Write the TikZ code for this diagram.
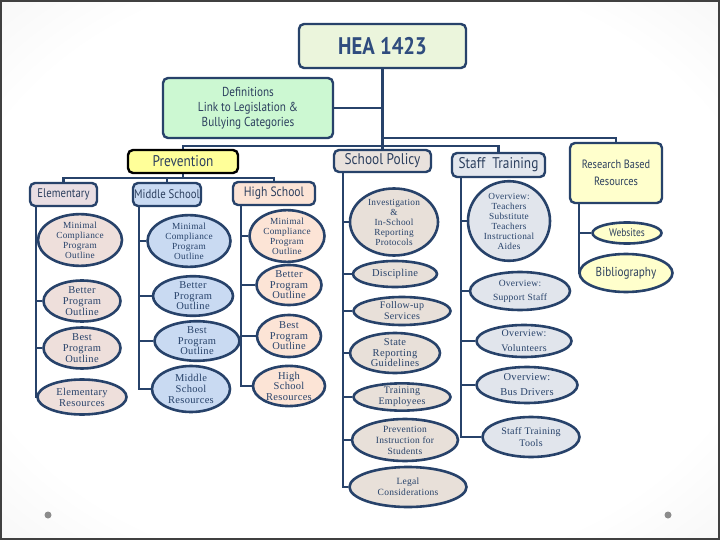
\documentclass[tikz,border=0pt]{standalone}
\usepackage{fontspec}
\newfontfamily\hdfont[FakeStretch=0.86]{PT Sans}
\newfontfamily\elfont[LetterSpace=3]{Liberation Serif}
\usetikzlibrary{shapes.geometric, backgrounds}
\definecolor{navy}{HTML}{27426A}
\definecolor{hdtext}{HTML}{2C3F5E}
\definecolor{heatext}{HTML}{2F4C7E}
\definecolor{heafill}{HTML}{EBF5DC}
\definecolor{deffill}{HTML}{CCF8D2}
\definecolor{prevfill}{HTML}{FFFF99}
\definecolor{polfill}{HTML}{E9E2DD}
\definecolor{stafffill}{HTML}{E3E7EE}
\definecolor{resfill}{HTML}{FFFFCC}
\definecolor{elemfill}{HTML}{E9DEE3}
\definecolor{midfill}{HTML}{C9DAF2}
\definecolor{highfill}{HTML}{FCE4D6}
\definecolor{elemov}{HTML}{EEDFDB}
\definecolor{polov}{HTML}{E8E0D9}
\definecolor{staffov}{HTML}{E1E5EC}
\pgfdeclareradialshading{pageshade}{\pgfpoint{0bp}{0bp}}{%
  color(0bp)=(white); color(28bp)=(white); color(71bp)=(black!17)}

\begin{document}
\begin{tikzpicture}[x=1pt, y=-1pt,
  hd/.style={rectangle, draw=navy, line width=2.4pt, rounded corners=5pt,
             inner sep=0pt, align=center, text=hdtext,
             font=\hdfont\fontsize{13}{15}\selectfont},
  ov/.style={ellipse, draw=navy, line width=2.6pt, inner sep=0pt,
             align=center, text=navy,
             font=\elfont\fontsize{9.3}{10}\selectfont},
  ln/.style={draw=navy, line width=2.2pt},
  sz/.style 2 args={minimum width=#1pt, minimum height=#2pt}
]
\useasboundingbox (0,0) rectangle (720,540);
\begin{scope}[on background layer]
  \shade[shading=pageshade] (0,0) rectangle (720,540);
  \draw[black!75, line width=2pt] (1,1) rectangle (719,539);
  \fill[black!45] (48,515) circle (3.5pt) (668,515) circle (3.5pt);
\end{scope}

% top boxes
\node[hd, sz={167}{44}, fill=heafill, text=heatext,
      font=\hdfont\bfseries\fontsize{24}{26}\selectfont] (hea) at (382.5,46) {HEA 1423};
\node[hd, sz={170}{60}, fill=deffill] (def) at (248,108)
      {Definitions\\Link to Legislation \&\\Bullying Categories};
\node[hd, sz={110}{23}, fill=prevfill, draw=black,
      font=\hdfont\fontsize{15.5}{17}\selectfont] (prev) at (183,161.5) {Prevention};
\node[hd, sz={97}{22}, fill=polfill,
      font=\hdfont\fontsize{15.5}{17}\selectfont] (pol) at (382.5,161) {School Policy};
\node[hd, sz={93}{24}, fill=stafffill,
      font=\hdfont\fontsize{15.5}{17}\selectfont] (staff) at (498.5,165) {Staff\ \ Training};
\node[hd, sz={92}{60}, fill=resfill, font=\hdfont\fontsize{12}{17}\selectfont] (res) at (616,173) {Research Based\\Resources};
\node[hd, sz={67}{23}, fill=elemfill, font=\hdfont\fontsize{12.5}{15}\selectfont] (elem) at (63.5,194.5) {Elementary};
\node[hd, sz={68}{23}, fill=midfill, font=\hdfont\fontsize{12.5}{15}\selectfont] (mid) at (167,194.5) {Middle School};
\node[hd, sz={82}{23}, fill=highfill,
      font=\hdfont\fontsize{13.5}{16}\selectfont] (high) at (274,193.5) {High School};

% elementary
\node[ov, sz={84}{50}, fill=elemov] (e1) at (80,240) {Minimal\\Compliance\\Program\\Outline};
\node[ov, sz={77}{41}, fill=elemov, font=\elfont\fontsize{10.5}{11}\selectfont] (e2) at (82,301) {Better\\Program\\Outline};
\node[ov, sz={77}{40}, fill=elemov, font=\elfont\fontsize{10.5}{11}\selectfont] (e3) at (82,348) {Best\\Program\\Outline};
\node[ov, sz={89}{35}, fill=elemov, font=\elfont\fontsize{10.5}{11}\selectfont] (e4) at (82,397) {Elementary\\Resources};

% middle school
\node[ov, sz={83}{50}, fill=midfill] (m1) at (189,241) {Minimal\\Compliance\\Program\\Outline};
\node[ov, sz={80}{37}, fill=midfill, font=\elfont\fontsize{10.5}{10.5}\selectfont] (m2) at (193,296) {Better\\Program\\Outline};
\node[ov, sz={85}{37}, fill=midfill, font=\elfont\fontsize{10.5}{10.5}\selectfont] (m3) at (197,341) {Best\\Program\\Outline};
\node[ov, sz={78}{46}, fill=midfill, font=\elfont\fontsize{10.5}{11}\selectfont] (m4) at (191,389) {Middle\\School\\Resources};

% high school
\node[ov, sz={75}{44}, fill=highfill] (h1) at (287,236) {Minimal\\Compliance\\Program\\Outline};
\node[ov, sz={65}{40}, fill=highfill, font=\elfont\fontsize{10.5}{10.5}\selectfont] (h2) at (289,285) {Better\\Program\\Outline};
\node[ov, sz={64}{42}, fill=highfill, font=\elfont\fontsize{10.5}{10.5}\selectfont] (h3) at (289,336) {Best\\Program\\Outline};
\node[ov, sz={72}{40}, fill=highfill, font=\elfont\fontsize{10.5}{10.5}\selectfont] (h4) at (289,386) {High\\School\\Resources};

% school policy
\node[ov, sz={88}{67}, fill=polov] (p1) at (394,222) {Investigation\\\&\\In-School\\Reporting\\Protocols};
\node[ov, sz={84}{26}, fill=polov, font=\elfont\fontsize{10.5}{11}\selectfont] (p2) at (395,274) {Discipline};
\node[ov, sz={97}{28}, fill=polov, font=\elfont\fontsize{10}{11}\selectfont] (p3) at (402,311) {Follow-up\\Services};
\node[ov, sz={90}{40}, fill=polov, font=\elfont\fontsize{10.5}{10.5}\selectfont] (p4) at (395,353) {State\\Reporting\\Guidelines};
\node[ov, sz={97}{27}, fill=polov, font=\elfont\fontsize{10}{10.5}\selectfont] (p5) at (402,397) {Training\\Employees};
\node[ov, sz={106}{42}, fill=polov, font=\elfont\fontsize{9.5}{11}\selectfont] (p6) at (405,440) {Prevention\\Instruction for\\Students};
\node[ov, sz={117}{40}, fill=polov, font=\elfont\fontsize{9.5}{11}\selectfont] (p7) at (408,487) {Legal\\Considerations};

% staff training
\node[ov, sz={82}{68}, fill=staffov] (s1) at (509,221) {Overview:\\Teachers\\Substitute\\Teachers\\Instructional\\Aides};
\node[ov, sz={100}{38}, fill=staffov, font=\elfont\fontsize{9.5}{14}\selectfont] (s2) at (520,291) {Overview:\\Support Staff};
\node[ov, sz={95}{32}, fill=staffov, font=\elfont\fontsize{10}{15}\selectfont] (s3) at (524,341) {Overview:\\Volunteers};
\node[ov, sz={101}{36}, fill=staffov, font=\elfont\fontsize{10.5}{15}\selectfont] (s4) at (527,385) {Overview:\\Bus Drivers};
\node[ov, sz={97}{40}, fill=staffov, font=\elfont\fontsize{10}{12}\selectfont] (s5) at (531,437) {Staff Training\\Tools};

% research
\node[ov, sz={69}{21}, fill=resfill, text=hdtext,
      font=\hdfont\fontsize{11}{13}\selectfont] (r1) at (627,233) {Websites};
\node[ov, sz={93}{38}, fill=resfill, text=hdtext,
      font=\hdfont\fontsize{13}{15}\selectfont] (r2) at (626,273) {Bibliography};

% connectors
\begin{scope}[on background layer]
  \coordinate (j1) at (382.5,138);
  \coordinate (j2) at (382.5,146);
  \coordinate (j3) at (183,178);
  \draw[ln] (hea) -- (pol);
  \draw[ln] (def.east) -- (def.east -| hea.south);
  \draw[ln] (j1) -| (res.north);
  \draw[ln] (prev.north) |- (j2) -| (staff.north);
  \draw[ln] (prev.south) -- (j3);
  \draw[ln] (elem.north) |- (j3) -| (high.north);
  \draw[ln] (mid.north) -- (mid.north |- j3);

  \coordinate (ecol) at ([xshift=7pt]elem.south west);
  \coordinate (mcol) at ([xshift=7pt]mid.south west);
  \coordinate (hcol) at ([xshift=9pt]high.south west);
  \coordinate (pcol) at ([xshift=10.5pt]pol.south west);
  \coordinate (scol) at ([xshift=10pt]staff.south west);
  \coordinate (rcol) at ([xshift=10pt]res.south west);
  \draw[ln] (ecol) |- (e4.west);
  \draw[ln] (mcol) |- (m4.west);
  \draw[ln] (hcol) |- (h4.west);
  \draw[ln] (pcol) |- (p7.west);
  \draw[ln] (scol) |- (s5.west);
  \draw[ln] (rcol) |- (r2.west);
  \foreach \n in {e1,e2,e3} \draw[ln] (\n.west) -- (\n.west -| ecol);
  \foreach \n in {m1,m2,m3} \draw[ln] (\n.west) -- (\n.west -| mcol);
  \foreach \n in {h1,h2,h3} \draw[ln] (\n.west) -- (\n.west -| hcol);
  \foreach \n in {p1,p2,p3,p4,p5,p6} \draw[ln] (\n.west) -- (\n.west -| pcol);
  \foreach \n in {s1,s2,s3,s4} \draw[ln] (\n.west) -- (\n.west -| scol);
  \draw[ln] (r1.west) -- (r1.west -| rcol);
\end{scope}
\end{tikzpicture}
\end{document}
